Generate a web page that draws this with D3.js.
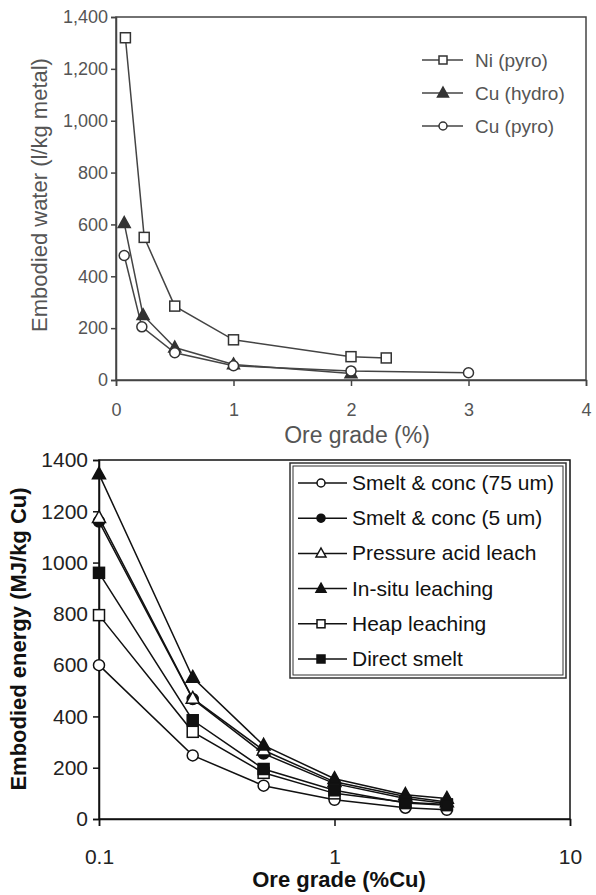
<!DOCTYPE html>
<html>
<head>
<meta charset="utf-8">
<script src="https://cdn.jsdelivr.net/npm/d3@7"></script>
<style>
body { margin: 0; background: white; }
svg { display: block; font-family: "Liberation Sans", Arial, sans-serif; }
</style>
</head>
<body>
<svg id="chart" width="596" height="895"></svg>
<script>
// top chart data: embodied water
const waterSeries = ["Ni (pyro)", "Cu (hydro)", "Cu (pyro)"];
const niPyro = [[0.08, 1320], [0.24, 550], [0.5, 285], [1, 155], [2, 90], [2.3, 85]];
const cuHydro = [[0.07, 605], [0.23, 250], [0.5, 125], [1, 60], [2, 25]];
const cuPyro = [[0.07, 480], [0.22, 205], [0.5, 105], [1, 55], [2, 35], [3, 28]];
const waterXTicks = [0, 1, 2, 3, 4];
const waterYTicks = [0, 200, 400, 600, 800, 1000, 1200, 1400];

// bottom chart data: embodied energy
const energyGrades = [0.1, 0.25, 0.5, 1, 2, 3];
const energySeries = ["Smelt & conc (75 um)", "Smelt & conc (5 um)", "Pressure acid leach", "In-situ leaching", "Heap leaching", "Direct smelt"];
const smelt75 = [600, 248, 130, 75, 44, 36];
const smelt5 = [1160, 468, 255, 138, 80, 60];
const pressureAcid = [1175, 470, 268, 145, 88, 66];
const inSitu = [1345, 552, 287, 157, 95, 80];
const heapLeach = [795, 340, 180, 100, 65, 57];
const directSmelt = [960, 385, 195, 112, 62, 54];
const energyXTicks = [0.1, 1, 10];
const energyYTicks = [0, 200, 400, 600, 800, 1000, 1200, 1400];

const svg = d3.select("#chart");

// ---------- top chart ----------
const gray = "#555";
const tx = d3.scaleLinear().domain([0, 4]).range([116, 586]);
const ty = d3.scaleLinear().domain([0, 1400]).range([380, 17]);

const topG = svg.append("g").attr("fill", gray).style("font-size", "19px");

topG.append("rect")
  .attr("x", tx(0)).attr("y", ty(1400))
  .attr("width", tx(4) - tx(0)).attr("height", ty(0) - ty(1400))
  .attr("fill", "none").attr("stroke", "#444").attr("stroke-width", 1.5);

const txAxis = topG.append("g").attr("transform", `translate(0,${ty(0)})`)
  .call(d3.axisBottom(tx).tickValues(waterXTicks).tickFormat(d3.format("d")).tickSize(6).tickPadding(17));
const tyAxis = topG.append("g").attr("transform", `translate(${tx(0)},0)`)
  .call(d3.axisLeft(ty).tickValues(waterYTicks).tickSize(5).tickPadding(3).tickFormat(d3.format(",")));
[txAxis, tyAxis].forEach(a => {
  a.select(".domain").attr("stroke", "#444").attr("stroke-width", 1.5);
  a.selectAll(".tick line").attr("stroke", "#444").attr("stroke-width", 1.5);
  a.selectAll("text").attr("fill", gray).style("font-size", "18px").style("font-family", "Liberation Sans, Arial, sans-serif");
});

topG.append("text").attr("x", 357).attr("y", 443).attr("text-anchor", "middle")
  .style("font-size", "23px").text("Ore grade (%)");
topG.append("text").attr("transform", "translate(47,195) rotate(-90)").attr("text-anchor", "middle")
  .style("font-size", "22px").text("Embodied water (l/kg metal)");

function marker(g, type, x, y, s, color) {
  if (type == "square" || type == "squareFilled") {
    g.append("rect").attr("x", x - s / 2).attr("y", y - s / 2).attr("width", s).attr("height", s)
      .attr("fill", type == "squareFilled" ? color : "white").attr("stroke", color).attr("stroke-width", 1.5);
  } else if (type == "circle" || type == "circleFilled") {
    g.append("circle").attr("cx", x).attr("cy", y).attr("r", s / 2)
      .attr("fill", type == "circleFilled" ? color : "white").attr("stroke", color).attr("stroke-width", 1.5);
  } else {
    const h = s * 0.9;
    g.append("path").attr("d", `M${x},${y - h * 0.6}L${x + s / 2},${y + h * 0.4}L${x - s / 2},${y + h * 0.4}Z`)
      .attr("fill", type == "triangleFilled" ? color : "white").attr("stroke", color).attr("stroke-width", 1.5);
  }
}

const waterData = [niPyro, cuHydro, cuPyro];
const waterMarks = ["square", "triangleFilled", "circle"];
const tline = d3.line().x(d => tx(d[0])).y(d => ty(d[1]));
waterData.forEach((s, i) => {
  topG.append("path").attr("d", tline(s)).attr("fill", "none").attr("stroke", "#444").attr("stroke-width", 1.5);
});
waterData.forEach((s, i) => {
  s.forEach(d => marker(topG, waterMarks[i], tx(d[0]), ty(d[1]), waterMarks[i] == "triangleFilled" ? 12 : 10, "#333"));
});

waterSeries.forEach((name, i) => {
  const y = 60 + i * 33;
  topG.append("line").attr("x1", 422).attr("x2", 463).attr("y1", y).attr("y2", y).attr("stroke", "#444").attr("stroke-width", 1.5);
  marker(topG, waterMarks[i], 443, y, waterMarks[i] == "triangleFilled" ? 11 : 8, "#333");
  topG.append("text").attr("x", 475).attr("y", y + 7).text(name);
});

// ---------- bottom chart ----------
const bx = d3.scaleLog().domain([0.1, 10]).range([99, 570]);
const by = d3.scaleLinear().domain([0, 1400]).range([819, 460]);
const bot = svg.append("g").attr("fill", "#111").style("font-size", "21px");

bot.append("rect")
  .attr("x", bx(0.1)).attr("y", by(1400))
  .attr("width", bx(10) - bx(0.1)).attr("height", by(0) - by(1400))
  .attr("fill", "none").attr("stroke", "#111").attr("stroke-width", 1.5);

const bxAxis = bot.append("g").attr("transform", `translate(0,${by(0)})`)
  .call(d3.axisBottom(bx).tickValues(energyXTicks).tickFormat(d => d).tickSize(7).tickPadding(23));
const byAxis = bot.append("g").attr("transform", `translate(${bx(0.1)},0)`)
  .call(d3.axisLeft(by).tickValues(energyYTicks).tickFormat(d3.format("d")).tickSize(6).tickPadding(5));
[bxAxis, byAxis].forEach(a => {
  a.select(".domain").attr("stroke", "#111").attr("stroke-width", 1.5);
  a.selectAll(".tick line").attr("stroke", "#111").attr("stroke-width", 1.5);
  a.selectAll("text").attr("fill", "#222").style("font-size", "21px").style("font-family", "Liberation Sans, Arial, sans-serif");
});

bot.append("text").attr("x", 339).attr("y", 887).attr("text-anchor", "middle")
  .style("font-weight", "bold").style("font-size", "22px").text("Ore grade (%Cu)");
bot.append("text").attr("transform", "translate(26,639) rotate(-90)").attr("text-anchor", "middle")
  .style("font-weight", "bold").style("font-size", "22px").text("Embodied energy (MJ/kg Cu)");

const energyData = [smelt75, smelt5, pressureAcid, inSitu, heapLeach, directSmelt];
const energyMarks = ["circle", "circleFilled", "triangle", "triangleFilled", "square", "squareFilled"];
const bline = d3.line().x((d, i) => bx(energyGrades[i])).y(d => by(d));
energyData.forEach(s => {
  bot.append("path").attr("d", bline(s)).attr("fill", "none").attr("stroke", "#111").attr("stroke-width", 1.5);
});
energyData.forEach((s, k) => {
  s.forEach((v, i) => marker(bot, energyMarks[k], bx(energyGrades[i]), by(v), energyMarks[k].startsWith("triangle") ? 13 : 11, "#111"));
});

// legend with double border
bot.append("rect").attr("x", 290).attr("y", 463).attr("width", 276).attr("height", 215)
  .attr("fill", "white").attr("stroke", "#333").attr("stroke-width", 1.5);
bot.append("rect").attr("x", 293).attr("y", 466).attr("width", 270).attr("height", 209)
  .attr("fill", "none").attr("stroke", "#333").attr("stroke-width", 1);
energySeries.forEach((name, i) => {
  const y = 483 + i * 35.2;
  bot.append("line").attr("x1", 298).attr("x2", 347).attr("y1", y).attr("y2", y).attr("stroke", "#111").attr("stroke-width", 1.5);
  marker(bot, energyMarks[i], 321, y, energyMarks[i].startsWith("triangle") ? 10 : 8, "#111");
  bot.append("text").attr("x", 352).attr("y", y + 7).text(name);
});
</script>
</body>
</html>
